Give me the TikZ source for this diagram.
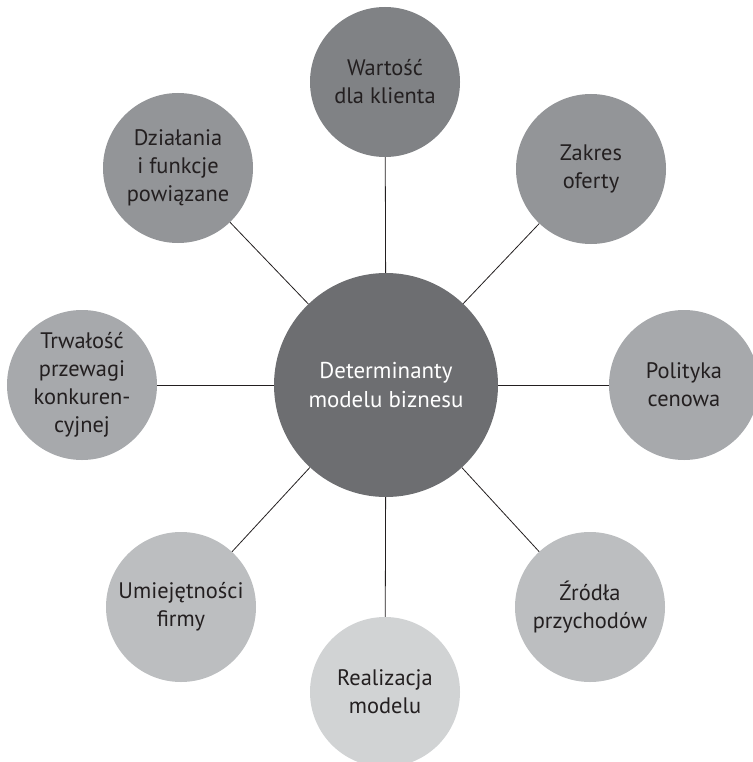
\documentclass[tikz,border=0pt]{standalone}
\usepackage{fontspec}
\setmainfont{PT Sans}
\definecolor{g70}{HTML}{6D6E71}
\definecolor{g60}{HTML}{808285}
\definecolor{g50}{HTML}{939598}
\definecolor{g40}{HTML}{A7A9AC}
\definecolor{g30}{HTML}{BCBEC0}
\definecolor{g20}{HTML}{D1D3D4}
\definecolor{ink}{HTML}{231F20}
\tikzset{
  outer/.style={circle, minimum size=150bp, inner sep=0pt, align=center, text=ink,
    font=\fontsize{22.5}{28}\selectfont},
  hub/.style={circle, minimum size=224bp, inner sep=0pt, align=center, text=white, fill=g70,
    font=\fontsize{23}{29}\selectfont},
  spoke/.style={draw=ink, line width=0.8bp}
}
\begin{document}
\begin{tikzpicture}[x=1bp,y=-1bp]
\useasboundingbox (0,0) rectangle (753,762);
\node[hub] (c) at (386,385) {Determinanty\\modelu biznesu};
\node[outer, fill=g60] (n1) at (385,82) {Wartość\\dla klienta};
\node[outer, fill=g50] (n2) at (591,169) {Zakres\\oferty};
\node[outer, fill=g40] (n3) at (684,385) {Polityka\\cenowa};
\node[outer, fill=g30] (n4) at (590,607) {Źródła\\przychodów};
\node[outer, fill=g20] (n5) at (385,692) {Realizacja\\modelu};
\node[outer, fill=g30] (n6) at (181,607) {Umiejętności\\firmy};
\node[outer, fill=g40] (n7) at (82,385) {Trwałość\\przewagi\\konkuren-\\cyjnej};
\node[outer, fill=g50] (n8) at (178,168) {Działania\\i funkcje\\powiązane};
\foreach \n in {n1,n2,n3,n4,n5,n6,n7,n8} {
  \draw[spoke] (c) -- (\n);
}
\end{tikzpicture}
\end{document}
